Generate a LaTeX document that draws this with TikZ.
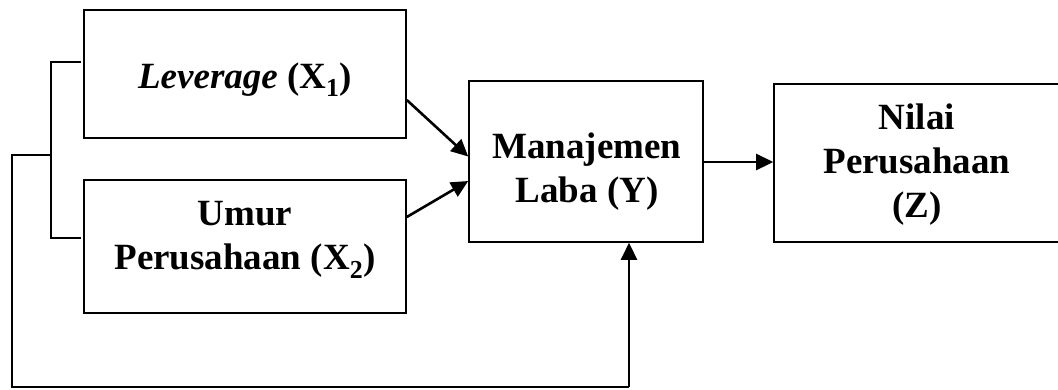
\documentclass[tikz,border=0pt]{standalone}
\usepackage{fontspec}
\setmainfont{Liberation Serif}
\usetikzlibrary{arrows.meta}
\begin{document}
\begin{tikzpicture}[x=1pt,y=-1pt,
  box/.style={draw=black, line width=1.6pt, rectangle, inner sep=0pt},
  lbl/.style={align=center, inner sep=0pt, font=\fontsize{37}{44}\selectfont\bfseries},
  conn/.style={draw=black, line width=2pt},
  arr/.style={draw=black, line width=2.6pt, -{Triangle[length=17pt,width=16pt]}}]
\useasboundingbox (0,0) rectangle (1058,389);
% boxes
\node[box, minimum width=322pt, minimum height=128pt] (x1) at (245,74) {};
\node[box, minimum width=322pt, minimum height=133pt] (x2) at (245,246.5) {};
\node[box, minimum width=234pt, minimum height=161pt] (y) at (586,161.5) {};
\node[box, minimum width=286pt, minimum height=158pt] (z) at (917,163) {};
% texts
\node[lbl] (tx1) at (245,79.5) {\textit{Leverage} (X\textsubscript{1})};
\node[lbl] (tx2) at (245,240) {Umur\\Perusahaan (X\textsubscript{2})};
\node[lbl] (ty) at (587,171.5) {Manajemen\\Laba (Y)};
\node[lbl] (tz) at (917,164.5) {Nilai\\Perusahaan\\(Z)};
% bracket coordinates
\coordinate (b1) at (81,62);
\coordinate (b2) at (51,62);
\coordinate (b3) at (51,238);
\coordinate (b4) at (81,238);
\coordinate (m) at (51,155);
\coordinate (c1) at (12,155);
\coordinate (c2) at (12,387);
\coordinate (c3) at (629,387);
% connectors
\draw[conn] (b1) -- (b2) -- (b3) -- (b4);
\draw[conn] (m) -- (c1) -- (c2) -- (c3);
\draw[arr] (c3) -- (c3 |- y.south);
\draw[arr] ([yshift=-26pt]x1.east) -- ([yshift=5pt]y.west);
\draw[arr] ([yshift=29.5pt]x2.east) -- ([yshift=-19.5pt]y.west);
\draw[arr] ([yshift=-0.5pt]y.east) -- ([yshift=-0.5pt]y.east -| z.west);
\end{tikzpicture}
\end{document}
